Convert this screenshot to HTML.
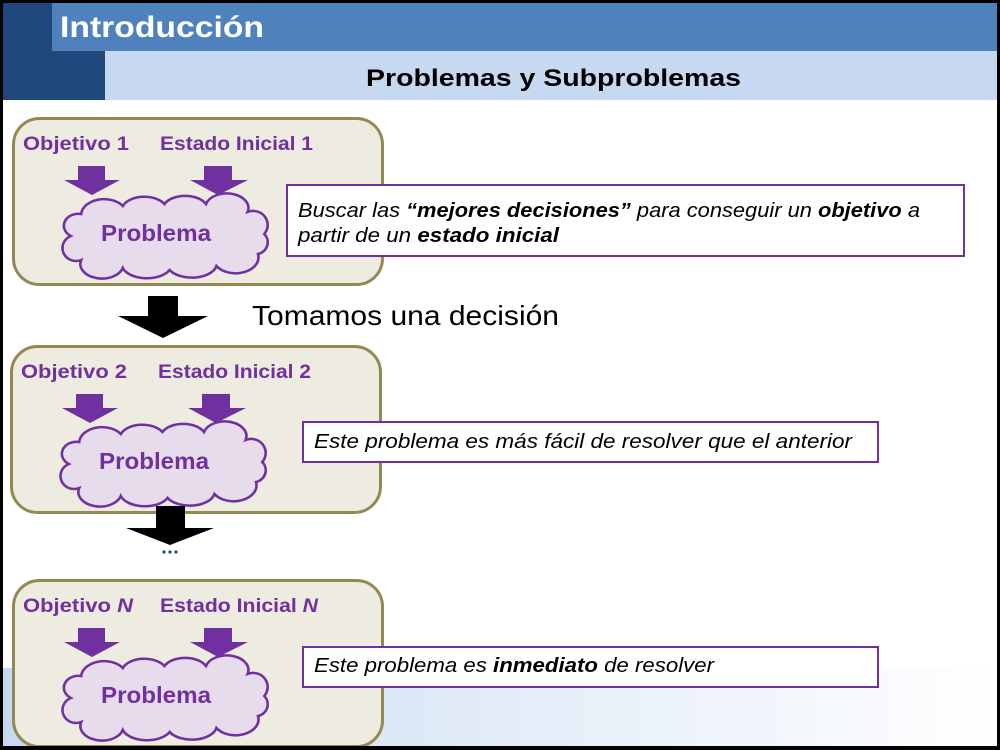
<!DOCTYPE html>
<html><head><meta charset="utf-8"><style>
html,body{margin:0;padding:0;background:#fff}
svg{display:block}
text{font-family:"Liberation Sans",sans-serif}
</style></head><body>
<svg width="1000" height="750" viewBox="0 0 1000 750" xmlns="http://www.w3.org/2000/svg">
<defs>
<linearGradient id="bg" x1="0" x2="1" y1="0" y2="0">
<stop offset="0" stop-color="#c6d9f1"/><stop offset="1" stop-color="#ffffff"/></linearGradient>
<g id="unit">
<rect x="13.5" y="118.5" width="369" height="166" rx="26" fill="#eeebe0" stroke="#938953" stroke-width="3"/>
<polygon points="78,166 105,166 105,180 120,180 92,195 64,180 78,180" fill="#7030a0"/>
<polygon points="204,166 232,166 232,180 248,180 218,195 190,180 204,180" fill="#7030a0"/>
<path transform="translate(50,196) scale(1.04,1)" d="M 20 40 A 14 12 0 0 1 30 18 A 22 16 0 0 1 70 10 A 22 14 0 0 1 110 8 A 22 14 0 0 1 150 8 A 20 14 0 0 1 190 16 A 14 14 0 0 1 206 38 A 12 12 0 0 1 200 58 A 22 16 0 0 1 160 70 A 24 14 0 0 1 115 74 A 24 14 0 0 1 70 72 A 20 14 0 0 1 30 64 A 12 12 0 0 1 20 40 Z" fill="#e6dcec" stroke="#7030a0" stroke-width="2.5"/>
<text x="101" y="241" font-size="23" font-weight="bold" fill="#7030a0" textLength="110" lengthAdjust="spacingAndGlyphs">Problema</text>
</g>
</defs>
<rect x="0" y="668" width="1000" height="82" fill="url(#bg)"/>
<rect x="3" y="3" width="102" height="97" fill="#1f497d"/>
<rect x="52" y="3" width="948" height="48" fill="#4f81bd"/>
<rect x="105" y="51" width="895" height="49" fill="#c6d9f1"/>
<text x="60" y="37" font-size="30" font-weight="bold" fill="#fff" textLength="204" lengthAdjust="spacingAndGlyphs">Introducción</text>
<text x="366" y="86" font-size="24" font-weight="bold" fill="#000" textLength="375" lengthAdjust="spacingAndGlyphs">Problemas y Subproblemas</text>

<use href="#unit"/>
<text x="23" y="150" font-size="19" font-weight="bold" fill="#7030a0" textLength="106" lengthAdjust="spacingAndGlyphs">Objetivo 1</text>
<text x="160" y="150" font-size="19" font-weight="bold" fill="#7030a0" textLength="153" lengthAdjust="spacingAndGlyphs">Estado Inicial 1</text>

<use href="#unit" transform="translate(-2,228)"/>
<text x="21" y="378" font-size="19" font-weight="bold" fill="#7030a0" textLength="106" lengthAdjust="spacingAndGlyphs">Objetivo 2</text>
<text x="158" y="378" font-size="19" font-weight="bold" fill="#7030a0" textLength="153" lengthAdjust="spacingAndGlyphs">Estado Inicial 2</text>

<use href="#unit" transform="translate(0,462)"/>
<text x="23" y="612" font-size="19" font-weight="bold" fill="#7030a0" textLength="110" lengthAdjust="spacingAndGlyphs">Objetivo <tspan font-style="italic">N</tspan></text>
<text x="160" y="612" font-size="19" font-weight="bold" fill="#7030a0" textLength="158" lengthAdjust="spacingAndGlyphs">Estado Inicial <tspan font-style="italic">N</tspan></text>

<polygon points="148,296 178,296 178,316 208,316 163,338 118,316 148,316" fill="#000"/>
<polygon points="156,506 185,506 185,528 214,528 170,545 126,528 156,528" fill="#000"/>
<g fill="#1f497d"><circle cx="164" cy="552" r="1.6"/><circle cx="170" cy="552" r="1.6"/><circle cx="176" cy="552" r="1.6"/></g>
<text x="252" y="325" font-size="28" fill="#000" textLength="307" lengthAdjust="spacingAndGlyphs">Tomamos una decisión</text>

<rect x="287" y="185" width="677" height="71" fill="#fff" stroke="#7030a0" stroke-width="2"/>
<text x="298" y="217" font-size="20" font-style="italic" fill="#000" textLength="622" lengthAdjust="spacingAndGlyphs">Buscar las <tspan font-weight="bold">“mejores decisiones”</tspan> para conseguir un <tspan font-weight="bold">objetivo</tspan> a</text>
<text x="298" y="242" font-size="20" font-style="italic" fill="#000" textLength="261" lengthAdjust="spacingAndGlyphs">partir de un <tspan font-weight="bold">estado inicial</tspan></text>

<rect x="303" y="422" width="575" height="40" fill="#fff" stroke="#7030a0" stroke-width="2"/>
<text x="314" y="448" font-size="20" font-style="italic" fill="#000" textLength="538" lengthAdjust="spacingAndGlyphs">Este problema es más fácil de resolver que el anterior</text>

<rect x="303" y="647" width="575" height="40" fill="#fff" stroke="#7030a0" stroke-width="2"/>
<text x="314" y="672" font-size="20" font-style="italic" fill="#000" textLength="400" lengthAdjust="spacingAndGlyphs">Este problema es <tspan font-weight="bold">inmediato</tspan> de resolver</text>

<rect x="1.5" y="1.5" width="997" height="746" fill="none" stroke="#000" stroke-width="3"/>
<rect x="0" y="746" width="1000" height="4" fill="#000"/>
</svg>
</body></html>
